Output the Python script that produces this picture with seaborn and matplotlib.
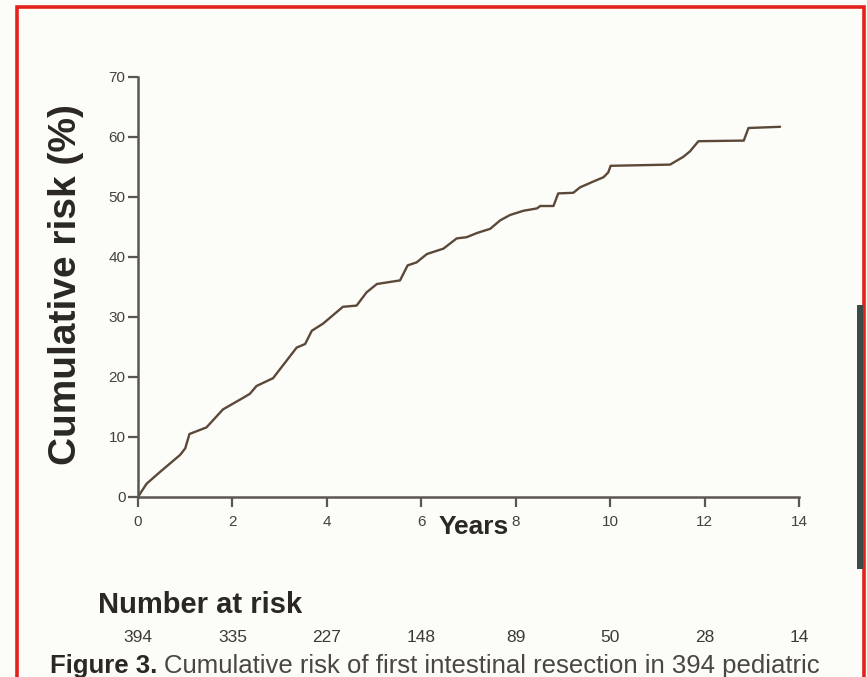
import matplotlib
matplotlib.use("Agg")
import matplotlib.pyplot as plt
import matplotlib.transforms as mtransforms
from matplotlib.patches import Rectangle
import pandas as pd
import seaborn as sns

# Cumulative risk curve (years since diagnosis, cumulative risk in %)
years = [0.00, 0.04, 0.18, 0.47, 0.89, 1.00, 1.09, 1.45, 1.80, 2.22, 2.37, 2.51,
         2.86, 3.36, 3.54, 3.68, 3.92, 4.07, 4.34, 4.63, 4.84, 5.06, 5.55, 5.71,
         5.90, 6.12, 6.47, 6.75, 6.96, 7.18, 7.46, 7.67, 7.88, 8.16, 8.45, 8.52,
         8.80, 8.90, 9.22, 9.36, 9.65, 9.86, 9.96, 10.01, 11.27, 11.55, 11.69,
         11.87, 12.83, 12.93, 13.60]
risk = [0.0, 0.5, 2.2, 4.2, 7.0, 8.1, 10.5, 11.6, 14.6, 16.5, 17.2, 18.5,
        19.8, 24.9, 25.5, 27.7, 28.9, 29.9, 31.7, 31.9, 34.1, 35.5, 36.1, 38.6,
        39.1, 40.5, 41.4, 43.1, 43.3, 44.0, 44.7, 46.1, 47.0, 47.7, 48.1, 48.5,
        48.5, 50.6, 50.7, 51.6, 52.6, 53.3, 54.1, 55.2, 55.4, 56.7, 57.6,
        59.3, 59.4, 61.5, 61.7]

risk_years = [0, 2, 4, 6, 8, 10, 12, 14]
at_risk = [394, 335, 227, 148, 89, 50, 28, 14]

x_ticks = [0, 2, 4, 6, 8, 10, 12, 14]
y_ticks = [0, 10, 20, 30, 40, 50, 60, 70]

caption_bold = "Figure 3."
caption_text = "Cumulative risk of first intestinal resection in 394 pediatric"

sns.set_theme(style="ticks")
plt.rcParams["font.family"] = ["Liberation Sans", "DejaVu Sans"]

W, H = 867, 677
bg = "#fcfcf9"
ink = "#2b2824"
axis_col = "#5a5652"
curve_col = "#5c4839"

fig = plt.figure(figsize=(W / 100, H / 100), dpi=100, facecolor=bg)


def fx(px):
    return px / W


def fy(py):
    return 1 - py / H


ax = fig.add_axes([fx(138), fy(497), fx(799) - fx(138), fy(77) - fy(497)])
ax.set_facecolor(bg)

df = pd.DataFrame({"Years": years, "Risk": risk})
sns.lineplot(data=df, x="Years", y="Risk", ax=ax, color=curve_col,
             linewidth=1.7, estimator=None, sort=False)

ax.set_xlim(0, 14)
ax.set_ylim(0, 70)
ax.set_xticks(x_ticks)
ax.set_yticks(y_ticks)
ax.set_xticklabels([str(v) for v in x_ticks])
ax.set_yticklabels([str(v) for v in y_ticks])
sns.despine(ax=ax)
for side in ("left", "bottom"):
    ax.spines[side].set_color(axis_col)
    ax.spines[side].set_linewidth(1.8)
ax.tick_params(axis="both", direction="out", length=7, width=1.6,
               color=axis_col, labelcolor="#45413d", labelsize=11)
ax.tick_params(axis="x", pad=6)
ax.tick_params(axis="y", pad=2)

ax.set_xlabel("Years", fontsize=19, fontweight="bold", color=ink)
ax.xaxis.set_label_coords((474 - 138) / (799 - 138), (497 - 527) / (497 - 77))
ax.xaxis.label.set_verticalalignment("center")
ax.set_ylabel("Cumulative risk (%)", fontsize=28, fontweight="bold", color=ink)
ax.yaxis.set_label_coords((84 - 138) / (799 - 138), 0.505)

# Number at risk table
fig.text(fx(98), fy(605), "Number at risk", fontsize=21, fontweight="bold",
         color=ink, ha="left", va="center")
trans = mtransforms.blended_transform_factory(ax.transData, fig.transFigure)
for yr, n in zip(risk_years, at_risk):
    ax.text(yr, fy(638), str(n), transform=trans, ha="center", va="center",
            fontsize=12.5, color="#3d3a36")

# Caption
t1 = fig.text(fx(50), fy(666), caption_bold, fontsize=18.5, fontweight="bold",
              color=ink, ha="left", va="center")
fig.canvas.draw()
bb = t1.get_window_extent()
fig.text((bb.x1 + 7) / W, fy(666), caption_text, fontsize=18.5,
         color="#4a4642", ha="left", va="center")

# Page frame and binding shadow
fig.add_artist(Rectangle((fx(17), fy(690)), fx(864) - fx(17), fy(7) - fy(690),
                         transform=fig.transFigure, fill=False,
                         edgecolor="#e3221b", linewidth=2.6))
fig.add_artist(Rectangle((fx(857), fy(569)), fx(863) - fx(857), fy(305) - fy(569),
                         transform=fig.transFigure, facecolor="#3e4a45",
                         edgecolor="none"))

fig.savefig("out.png", dpi=100, facecolor=bg)
